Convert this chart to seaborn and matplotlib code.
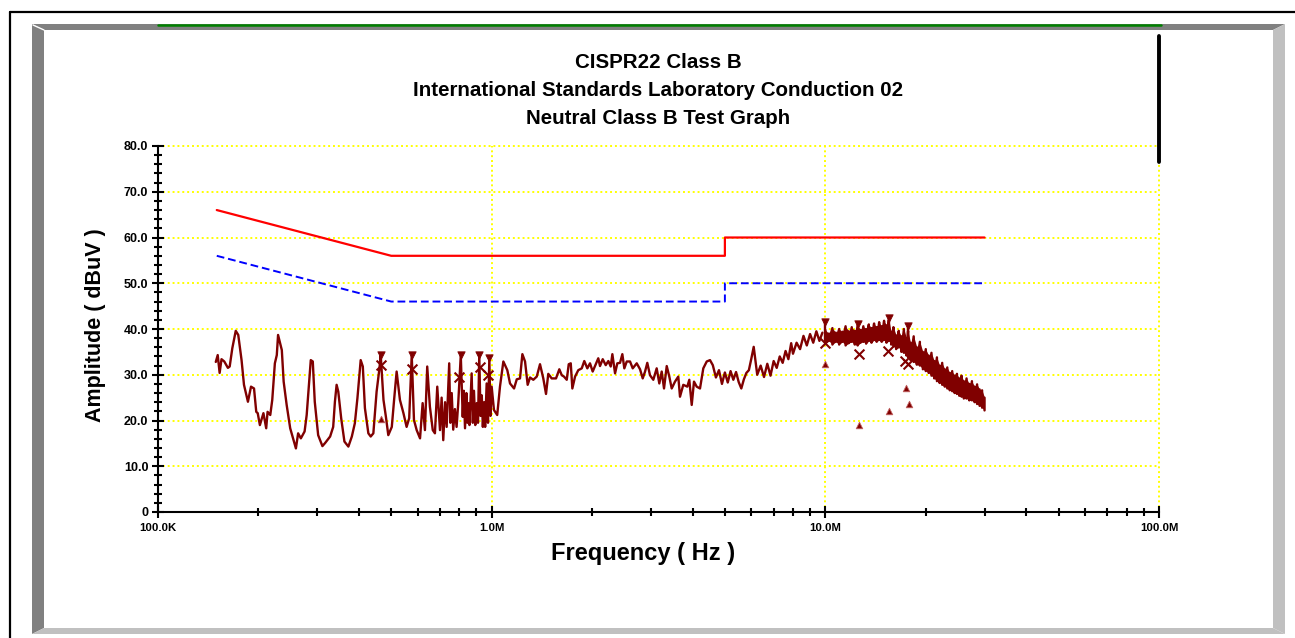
import numpy as np
import pandas as pd
import matplotlib
matplotlib.use("Agg")
import matplotlib.pyplot as plt
from matplotlib.lines import Line2D
from matplotlib.patches import Polygon
from matplotlib.ticker import FixedLocator, FixedFormatter, LogLocator, MultipleLocator, NullFormatter
import seaborn as sns

# ---------------- data ----------------
title_lines = ["CISPR22 Class B",
               "International Standards Laboratory Conduction 02",
               "Neutral Class B Test Graph"]
x_label = "Frequency ( Hz )"
y_label = "Amplitude ( dBuV )"

x_ticks_hz = [1e5, 1e6, 1e7, 1e8]
x_tick_labels = ["100.0K", "1.0M", "10.0M", "100.0M"]
y_ticks = [0, 10, 20, 30, 40, 50, 60, 70, 80]
y_tick_labels = ["0", "10.0", "20.0", "30.0", "40.0", "50.0", "60.0", "70.0", "80.0"]

# limit lines (frequency in MHz, level in dBuV)
qp_limit_f = [0.15, 0.5, 5.0, 5.0, 30.0]
qp_limit_a = [66.0, 56.0, 56.0, 60.0, 60.0]
av_limit_f = [0.15, 0.5, 5.0, 5.0, 30.0]
av_limit_a = [56.0, 46.0, 46.0, 50.0, 50.0]

# measured trace, 150 kHz - 10 MHz (MHz, dBuV)
trace_f = [
    0.149, 0.151, 0.153, 0.155, 0.158, 0.162, 0.164, 0.167, 0.171, 0.174,
    0.178, 0.181, 0.186, 0.190, 0.194, 0.197, 0.199, 0.202, 0.207, 0.211,
    0.213, 0.217, 0.220, 0.224, 0.227, 0.229, 0.235, 0.238, 0.243, 0.249,
    0.254, 0.259, 0.263, 0.268, 0.275, 0.279, 0.287, 0.291, 0.295, 0.302,
    0.311, 0.317, 0.328, 0.335, 0.339, 0.343, 0.347, 0.354, 0.362, 0.372,
    0.381, 0.389, 0.396, 0.405, 0.411, 0.417, 0.427, 0.434, 0.442, 0.452,
    0.461, 0.465, 0.474, 0.482, 0.490, 0.502, 0.510, 0.519, 0.531, 0.544,
    0.556, 0.566, 0.576, 0.585, 0.596, 0.610, 0.621, 0.631, 0.641, 0.653,
    0.666, 0.676, 0.687, 0.700, 0.708, 0.716, 0.725, 0.733, 0.746, 0.752,
    0.759, 0.767, 0.776, 0.785, 0.794, 0.808, 0.819, 0.825, 0.832, 0.840,
    0.846, 0.851, 0.858, 0.871, 0.878, 0.885, 0.893, 0.902, 0.910, 0.918,
    0.926, 0.934, 0.941, 0.949, 0.956, 0.966, 0.975, 0.984, 0.992, 1.000,
    1.016, 1.039, 1.059, 1.084, 1.114, 1.135, 1.167, 1.189, 1.216, 1.236,
    1.259, 1.282, 1.303, 1.333, 1.365, 1.396, 1.428, 1.455, 1.478, 1.513,
    1.559, 1.595, 1.622, 1.647, 1.679, 1.702, 1.726, 1.745, 1.778, 1.818,
    1.862, 1.895, 1.935, 1.971, 2.008, 2.045, 2.087, 2.112, 2.152, 2.197,
    2.237, 2.274, 2.300, 2.343, 2.380, 2.425, 2.464, 2.498, 2.540, 2.598,
    2.647, 2.721, 2.784, 2.836, 2.882, 2.927, 2.982, 3.051, 3.123, 3.180,
    3.233, 3.285, 3.347, 3.407, 3.464, 3.544, 3.625, 3.668, 3.752, 3.858,
    3.911, 3.977, 4.040, 4.116, 4.211, 4.308, 4.411, 4.512,
    4.6, 4.7, 4.8, 4.9, 5.0, 5.1, 5.2, 5.3, 5.4, 5.5,
    5.6, 5.7, 5.8, 5.9, 6.0, 6.1, 6.25, 6.4, 6.55, 6.7,
    6.85, 7.0, 7.15, 7.3, 7.45, 7.6, 7.75, 7.9, 8.0, 8.2,
    8.4, 8.6, 8.8, 9.0, 9.2, 9.4, 9.6, 9.8,
]
trace_a = [
    32.8, 34.3, 30.4, 33.4, 32.9, 31.5, 31.8, 35.8, 39.6, 38.7,
    33.2, 27.8, 24.1, 27.4, 27.0, 21.9, 21.6, 19.0, 21.6, 18.3,
    21.9, 21.2, 24.5, 32.5, 34.3, 38.7, 35.4, 28.5, 23.4, 18.3,
    16.1, 13.9, 17.2, 16.1, 17.6, 21.2, 33.2, 32.9, 24.1, 16.8,
    14.4, 15.1, 16.5, 18.6, 24.1, 27.8, 26.3, 20.5, 15.4, 14.3,
    16.5, 19.4, 24.9, 33.2, 31.8, 22.7, 17.2, 16.5, 17.2, 26.3,
    31.4, 34.3, 24.5, 20.8, 16.8, 18.6, 24.5, 30.7, 24.5, 21.6,
    18.6, 20.5, 34.3, 20.1, 17.9, 16.1, 23.8, 17.9, 31.8, 23.0,
    17.9, 17.2, 27.4, 17.9, 25.0, 15.7, 24.0, 18.6, 32.5, 19.5,
    26.0, 18.0, 22.5, 18.6, 23.8, 34.3, 20.8, 26.5, 18.3, 26.0,
    19.5, 23.8, 19.0, 30.3, 19.5, 26.5, 19.0, 23.8, 19.5, 34.3,
    21.0, 25.5, 18.6, 24.0, 18.6, 28.1, 19.5, 33.6, 21.0, 27.4,
    22.3, 21.2, 27.4, 32.9, 31.0, 28.1, 27.0, 29.0, 29.2, 34.5,
    32.9, 27.8, 29.4, 28.9, 29.6, 32.3, 29.2, 25.8, 30.2, 29.2,
    29.2, 31.2, 29.9, 29.6, 28.9, 32.3, 32.5, 27.0, 29.6, 31.0,
    31.4, 33.0, 31.4, 32.5, 30.7, 32.1, 33.6, 31.9, 33.4, 32.1,
    33.0, 31.8, 34.5, 30.3, 32.5, 32.6, 34.5, 31.4, 32.9, 32.9,
    31.4, 32.5, 31.2, 29.2, 30.7, 32.6, 29.9, 28.9, 31.4, 28.1,
    30.7, 27.0, 31.9, 29.6, 27.0, 28.5, 29.6, 25.2, 27.8, 27.4,
    28.9, 23.4, 28.5, 27.4, 27.0, 31.4, 32.9, 33.2,
    32.1, 29.4, 31.0, 28.0, 30.5, 28.3, 30.8, 28.9, 30.6, 28.4,
    27.0, 29.0, 30.4, 31.0, 33.5, 36.1, 30.0, 32.0, 29.5, 32.4,
    29.8, 33.0, 31.5, 34.0, 32.6, 35.2, 33.4, 36.9, 34.6, 37.0,
    35.6, 38.5, 36.4, 38.9, 37.0, 39.5, 37.4, 39.2,
]

# 10 - 30 MHz dense noise band: upper and lower envelope of the trace
band_f = [10.0, 10.25, 10.5, 10.75, 11.0, 11.25, 11.5, 11.75, 12.0, 12.25,
          12.5, 12.75, 13.0, 13.25, 13.5, 13.75, 14.0, 14.25, 14.5, 14.75,
          15.0, 15.25, 15.5, 15.75, 16.0, 16.3, 16.6, 16.9, 17.2, 17.5,
          17.7, 18.0, 18.4, 18.8, 19.2, 19.6, 20.0, 20.4, 20.8, 21.2,
          21.6, 22.0, 22.4, 22.8, 23.2, 23.6, 24.0, 24.4, 24.8, 25.2,
          25.6, 26.0, 26.5, 27.0, 27.5, 28.0, 28.5, 29.0, 29.5, 30.0]
band_hi = [39.8, 39.0, 40.2, 39.2, 40.0, 39.4, 40.6, 39.5, 40.4, 39.6,
           40.8, 39.8, 40.6, 40.0, 41.0, 40.2, 41.2, 40.4, 41.5, 40.6,
           41.8, 40.8, 42.0, 39.4, 40.4, 38.6, 39.6, 38.4, 40.0, 38.0,
           39.6, 37.0, 38.4, 36.0, 37.2, 35.0, 35.6, 34.2, 34.8, 33.0,
           33.8, 32.0, 32.6, 31.2, 31.6, 30.4, 30.8, 29.8, 30.2, 29.2,
           29.8, 28.6, 29.2, 28.0, 28.6, 27.4, 27.9, 26.8, 26.6, 25.0]
band_lo = [36.8, 37.4, 36.6, 37.2, 36.6, 37.2, 36.4, 36.9, 37.2, 36.6,
           36.4, 37.0, 37.2, 36.8, 37.4, 37.0, 37.6, 37.2, 37.6, 37.2,
           37.6, 37.0, 37.4, 36.6, 36.2, 35.6, 36.0, 35.0, 34.8, 34.2,
           33.8, 33.2, 32.8, 32.2, 32.0, 31.2, 30.8, 30.4, 29.8, 29.2,
           28.6, 28.2, 27.8, 27.4, 27.0, 26.6, 26.4, 26.0, 25.8, 25.4,
           25.2, 24.8, 24.8, 24.4, 24.4, 24.0, 23.6, 23.2, 22.8, 22.2]

# marker sets
peak_f = [0.465, 0.576, 0.808, 0.918, 0.984, 10.0, 12.5, 15.5, 17.7]
peak_a = [34.3, 34.3, 34.3, 34.3, 33.6, 41.6, 41.2, 42.3, 40.7]
qp_f = [0.465, 0.576, 0.800, 0.923, 0.977, 10.0, 12.6, 15.4, 17.35, 17.7]
qp_a = [32.1, 31.2, 29.5, 31.8, 30.0, 36.9, 34.5, 35.3, 33.0, 32.4]
av_f = [0.465, 10.0, 12.6, 15.5, 17.4, 17.8]
av_a = [20.3, 32.3, 19.0, 22.1, 27.0, 23.5]

# ---------------- style ----------------
sns.set_style("white")
plt.rcParams['font.family'] = ['Liberation Sans', 'DejaVu Sans']
plt.rcParams['font.weight'] = 'bold'
for k in ['text.color', 'axes.labelcolor', 'xtick.color', 'ytick.color']:
    plt.rcParams[k] = 'black'

W, H = 1295, 638
fig = plt.figure(figsize=(W / 100, H / 100), dpi=100)
fig.patch.set_facecolor('white')


def P(x, y):
    return (x / W, 1 - y / H)


def fig_line(p0, p1, **kw):
    a, b = P(*p0), P(*p1)
    fig.add_artist(Line2D([a[0], b[0]], [a[1], b[1]], transform=fig.transFigure, **kw))


# outer black frame (partially off-canvas)
fig_line((10, 12), (1300, 12), color='black', lw=1.6)
fig_line((10, 12), (10, 640), color='black', lw=1.6)

# bevel panel
dark, light = '#808080', '#c0c0c0'
bevels = [
    ([(32, 24), (1285, 24), (1273, 30), (44, 30)], dark),
    ([(32, 24), (44, 30), (44, 628), (32, 634)], dark),
    ([(1285, 24), (1285, 634), (1273, 628), (1273, 30)], light),
    ([(32, 634), (1285, 634), (1273, 628), (44, 628)], light),
]
for pts, col in bevels:
    fig.add_artist(Polygon([P(*p) for p in pts], closed=True, transform=fig.transFigure,
                           facecolor=col, edgecolor='none'))
fig_line((33, 25), (44, 30), color='white', lw=1.0)
fig_line((158, 25), (1161, 25), color='#008000', lw=1.8)
fig_line((1158.5, 36), (1158.5, 162), color='black', lw=2.8, solid_capstyle='round', zorder=5)

ax = fig.add_axes([158 / W, 1 - 512 / H, (1159 - 158) / W, (512 - 146) / H])
ax.set_facecolor('none')
ax.set_xscale('log')

# ---------------- plot ----------------
maroon = '#800000'
lim_q = pd.DataFrame({'f': np.array(qp_limit_f) * 1e6, 'a': qp_limit_a})
lim_a = pd.DataFrame({'f': np.array(av_limit_f) * 1e6, 'a': av_limit_a})
trace = pd.DataFrame({'f': np.array(trace_f) * 1e6, 'a': trace_a})

sns.lineplot(data=lim_q, x='f', y='a', sort=False, estimator=None, color='#ff0000', lw=1.6, ax=ax)
sns.lineplot(data=lim_a, x='f', y='a', sort=False, estimator=None, color='#0000ff', lw=1.4,
             linestyle=(0, (4, 2)), ax=ax)
sns.lineplot(data=trace, x='f', y='a', sort=False, estimator=None, color=maroon, lw=1.7, ax=ax)

# band: filled envelope with zig-zag edges
bf = np.array(band_f) * 1e6
ax.fill_between(bf, band_lo, band_hi, color=maroon, lw=0, zorder=3)
band_zz_f = np.ravel(np.column_stack([bf, bf]))
band_zz_a = np.ravel(np.column_stack([band_hi, band_lo]))
sns.lineplot(x=band_zz_f, y=band_zz_a, sort=False, estimator=None, color=maroon, lw=1.7, ax=ax)
# stems up to the peak markers
for f0, a0 in zip(peak_f[5:], peak_a[5:]):
    ax.plot([f0 * 1e6, f0 * 1e6], [a0 - 4, a0], color=maroon, lw=1.7)

sns.scatterplot(x=np.array(peak_f) * 1e6, y=peak_a, marker='v', color=maroon, s=28,
                edgecolor=maroon, linewidth=0.6, ax=ax, zorder=6)
sns.scatterplot(x=np.array(qp_f) * 1e6, y=qp_a, marker='x', color=maroon, s=50,
                linewidth=1.5, ax=ax, zorder=6)
sns.scatterplot(x=np.array(av_f) * 1e6, y=av_a, marker='^', color=maroon, s=22,
                edgecolor='#c06060', linewidth=0.6, ax=ax, zorder=6)

# ---------------- axes ----------------
ax.set_xlim(1e5, 1e8)
ax.set_ylim(0, 80)
ax.xaxis.set_major_locator(FixedLocator(x_ticks_hz))
ax.xaxis.set_major_formatter(FixedFormatter(x_tick_labels))
ax.xaxis.set_minor_locator(LogLocator(base=10, subs=[2, 3, 4, 5, 6, 7, 8, 9], numticks=20))
ax.xaxis.set_minor_formatter(NullFormatter())
ax.yaxis.set_major_locator(FixedLocator(y_ticks))
ax.yaxis.set_major_formatter(FixedFormatter(y_tick_labels))
ax.yaxis.set_minor_locator(MultipleLocator(2))

for s in ['top', 'right']:
    ax.spines[s].set_visible(False)
for s in ['left', 'bottom']:
    ax.spines[s].set_color('black')
    ax.spines[s].set_linewidth(1.5)

ax.tick_params(axis='both', which='both', bottom=True, left=True, top=False, right=False)
ax.tick_params(axis='x', which='major', direction='inout', length=9, width=1.5, colors='black',
               labelsize=8.2, pad=3.5)
ax.tick_params(axis='x', which='minor', direction='inout', length=5.5, width=1.5, colors='black')
ax.tick_params(axis='y', which='major', direction='inout', length=8, width=1.5, colors='black',
               labelsize=9, pad=3)
ax.tick_params(axis='y', which='minor', direction='inout', length=6, width=1.5, colors='black')
for lab in ax.get_xticklabels() + ax.get_yticklabels():
    lab.set_fontweight('bold')

ax.grid(True, which='major', color='#ffff00', linestyle=(0, (1, 1.5)), linewidth=1.4)
ax.set_axisbelow(True)
for gl in ax.get_xgridlines() + ax.get_ygridlines():
    gl.set_clip_on(False)

ax.set_xlabel(x_label, fontsize=17, fontweight='bold')
ax.set_ylabel(y_label, fontsize=15.5, fontweight='bold')
ax.xaxis.set_label_coords(0.485, -0.083)
ax.yaxis.set_label_coords(-0.052, 0.51)

for txt, yy in zip(title_lines, [62, 91, 118]):
    fig.text(P(658.5, yy)[0], P(658.5, yy)[1], txt, ha='center', va='center',
             fontsize=14.8, fontweight='bold')

fig.savefig('out.png', dpi=100, facecolor='white')
